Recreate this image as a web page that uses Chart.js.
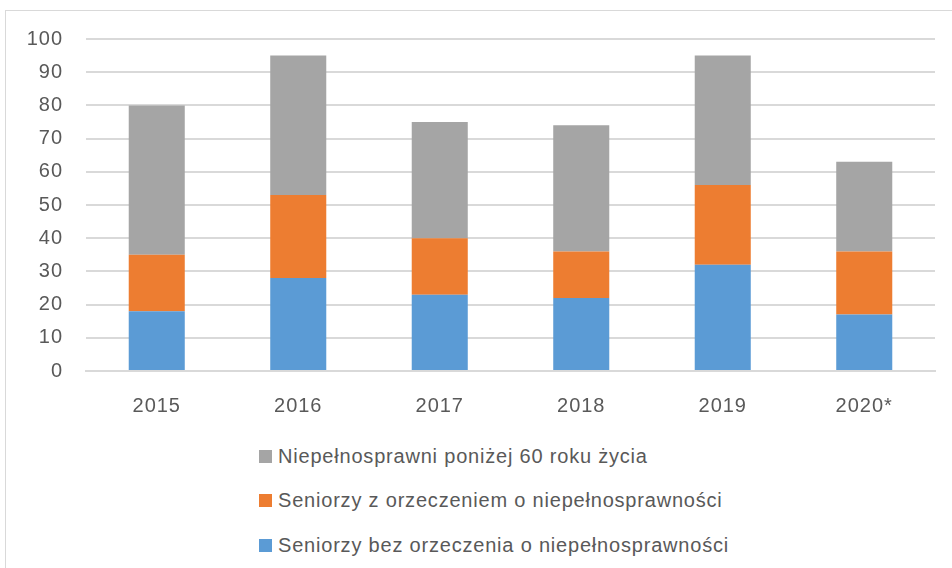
<!DOCTYPE html>
<html>
<head>
<meta charset="utf-8">
<script src="https://cdn.jsdelivr.net/npm/chart.js@4"></script>
<style>
  html, body { margin: 0; padding: 0; background: #fff; }
  body { width: 952px; height: 568px; overflow: hidden; position: relative; font-family: "Liberation Sans", sans-serif; }
  .frame { position: absolute; left: 5px; top: 10px; width: 960px; height: 580px; border: 1px solid #d9d9d9; box-sizing: border-box; }
  .chart-box { position: absolute; left: 0; top: 0; width: 952px; height: 431px; }
  #legend { position: absolute; left: 259px; top: 434px; }
  .legend-item { display: flex; align-items: center; height: 44.6px; font-size: 20px; letter-spacing: 0.8px; color: #595959; }
  .legend-item .swatch { width: 13px; height: 13px; margin-right: 6px; }
</style>
</head>
<body>
<div class="frame"></div>
<div class="chart-box"><canvas id="barChart"></canvas></div>
<div id="legend"></div>
<script>
const years = ["2015", "2016", "2017", "2018", "2019", "2020*"];
const seniorzyBez = [18, 28, 23, 22, 32, 17];
const seniorzyZ = [17, 25, 17, 14, 24, 19];
const niepelnosprawni = [45, 42, 35, 38, 39, 27];
const yTicks = [0, 10, 20, 30, 40, 50, 60, 70, 80, 90, 100];

const labelBez = "Seniorzy bez orzeczenia o niepełnosprawności";
const labelZ = "Seniorzy z orzeczeniem o niepełnosprawności";
const labelNiep = "Niepełnosprawni poniżej 60 roku życia";

// espacement des lettres pour les graduations
const spacingPlugin = {
    id: "spacing",
    beforeDraw: (chart) => { chart.ctx.letterSpacing = "1px"; }
};

const tickFont = { family: "Liberation Sans", size: 20 };

const ctx = document.getElementById("barChart").getContext("2d");
const chart = new Chart(ctx, {
    type: "bar",
    data: {
        labels: years,
        datasets: [
            { label: labelBez, data: seniorzyBez, backgroundColor: "#5B9BD5" },
            { label: labelZ, data: seniorzyZ, backgroundColor: "#ED7D31" },
            { label: labelNiep, data: niepelnosprawni, backgroundColor: "#A5A5A5" }
        ]
    },
    plugins: [spacingPlugin],
    options: {
        responsive: true,
        maintainAspectRatio: false,
        animation: false,
        layout: { padding: { top: 39, right: 17, left: 0, bottom: 0 } },
        datasets: { bar: { categoryPercentage: 1, barPercentage: 0.396 } },
        scales: {
            x: {
                stacked: true,
                grid: { display: false, drawTicks: false },
                border: { color: "#d9d9d9", width: 2 },
                ticks: { color: "#595959", padding: 23, font: tickFont },
                afterFit: (s) => { s.height = 60; }
            },
            y: {
                stacked: true,
                min: 0,
                max: 100,
                afterBuildTicks: (s) => { s.ticks = yTicks.map(v => ({ value: v })); },
                grid: { color: "#d9d9d9", lineWidth: 2, drawTicks: false },
                border: { display: false },
                ticks: { color: "#595959", padding: 23, font: tickFont },
                afterFit: (s) => { s.width = 86; }
            }
        },
        plugins: {
            legend: { display: false },
            tooltip: { enabled: false }
        }
    }
});

// legende dans l'ordre inverse comme dans l'original
const legendEl = document.getElementById("legend");
chart.data.datasets.slice().reverse().forEach((ds) => {
    const item = document.createElement("div");
    item.className = "legend-item";
    item.innerHTML = `<span class="swatch" style="background:${ds.backgroundColor}"></span><span>${ds.label}</span>`;
    legendEl.appendChild(item);
});
</script>
</body>
</html>
